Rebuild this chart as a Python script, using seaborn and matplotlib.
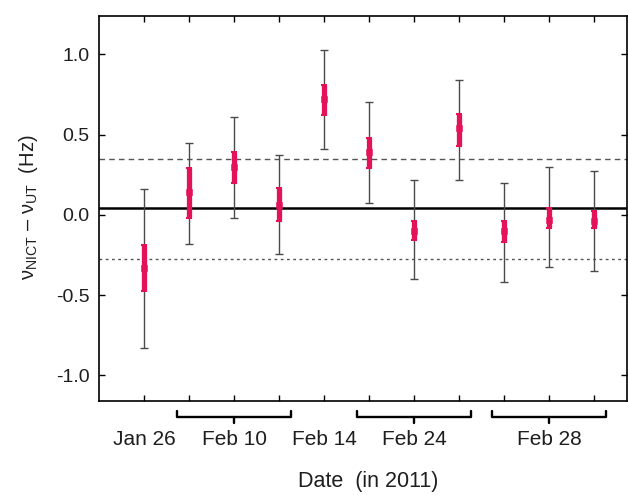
import numpy as np
import pandas as pd
import matplotlib
matplotlib.use("Agg")
import matplotlib.pyplot as plt
import matplotlib.transforms as mtransforms
import seaborn as sns

# ---- data ----
positions = [1, 2, 3, 4, 5, 6, 7, 8, 9, 10, 11]
center = [-0.33, 0.14, 0.30, 0.06, 0.72, 0.39, -0.10, 0.54, -0.10, -0.03, -0.04]
outer_hi = [0.16, 0.45, 0.61, 0.375, 1.025, 0.70, 0.22, 0.84, 0.20, 0.30, 0.27]
outer_lo = [-0.83, -0.18, -0.02, -0.245, 0.41, 0.075, -0.40, 0.22, -0.42, -0.325, -0.35]
inner_hi = [-0.19, 0.29, 0.39, 0.17, 0.81, 0.48, -0.04, 0.63, -0.04, 0.04, 0.025]
inner_lo = [-0.475, -0.02, 0.20, -0.04, 0.62, 0.29, -0.16, 0.43, -0.17, -0.08, -0.08]

mean_line = 0.04
upper_line = 0.35
lower_line = -0.275

# labels: (first index, last index, text)
date_groups = [(1, 1, "Jan 26"), (2, 4, "Feb 10"), (5, 5, "Feb 14"),
               (6, 8, "Feb 24"), (9, 11, "Feb 28")]
yticks = [-1.0, -0.5, 0.0, 0.5, 1.0]
ytick_labels = ["-1.0", "-0.5", "0.0", "0.5", "1.0"]

df = pd.DataFrame({"pos": positions, "center": center,
                   "ohi": outer_hi, "olo": outer_lo,
                   "ihi": inner_hi, "ilo": inner_lo})

sns.set_style("ticks")
plt.rcParams["font.family"] = ["Liberation Sans", "DejaVu Sans"]
plt.rcParams["mathtext.fontset"] = "custom"
plt.rcParams["mathtext.rm"] = "Liberation Sans"
plt.rcParams["mathtext.it"] = "Liberation Sans:italic"
plt.rcParams["axes.unicode_minus"] = False

fig = plt.figure(figsize=(6.28, 4.95), dpi=100)
ax = fig.add_axes([0.158, 0.19, 0.840, 0.778])

red = "#e3125a"
gray = "#4a4a4a"
txt = "#1e1e1e"

# outer error bars
ax.errorbar(df["pos"], df["center"],
            yerr=[df["center"] - df["olo"], df["ohi"] - df["center"]],
            fmt="none", ecolor=gray, elinewidth=1.0, capsize=3, capthick=1.0, zorder=2)
# inner (red) error bars
ax.errorbar(df["pos"], df["center"],
            yerr=[df["center"] - df["ilo"], df["ihi"] - df["center"]],
            fmt="none", ecolor=red, elinewidth=3.8, capsize=2.5, capthick=1.5, zorder=3)
sns.scatterplot(data=df, x="pos", y="center", ax=ax, color=red, marker="s",
                s=22, edgecolor=red, zorder=4, legend=False)

ax.axhline(mean_line, color="black", lw=1.8, zorder=1)
ax.axhline(upper_line, color="#555555", lw=1.0, ls=(0, (4, 3)), zorder=1)
ax.axhline(lower_line, color="#555555", lw=1.0, ls=(0, (2, 2.5)), zorder=1)

ax.set_xlabel("")
ax.set_ylabel("")
ax.set_xlim(0, 11.73)
ax.set_ylim(-1.16, 1.24)
ax.set_yticks(yticks)
ax.set_yticklabels(ytick_labels)
ax.set_xticks(positions)
ax.set_xticklabels([])
ax.tick_params(axis="both", direction="in", length=4, width=1, colors="black",
               top=True, right=True, labelsize=14, labelcolor=txt)
ax.tick_params(axis="y", pad=7)
for s in ax.spines.values():
    s.set_linewidth(1.2)
    s.set_color("black")

# date labels and brackets under the axis
trans = mtransforms.blended_transform_factory(ax.transData, ax.transAxes)
for first, last, text in date_groups:
    mid = (first + last) / 2
    if last > first:
        x0, x1 = first - 0.27, last + 0.27
        ax.plot([x0, x0, x1, x1], [-0.026, -0.041, -0.041, -0.026], color="black",
                lw=1.7, transform=trans, clip_on=False)
        ax.plot([mid, mid], [-0.041, -0.057], color="black", lw=1.7,
                transform=trans, clip_on=False)
    ax.text(mid, -0.10, text, transform=trans, ha="center", va="center",
            fontsize=15, color=txt)

ax.text(0.51, -0.21, "Date  (in 2011)", transform=ax.transAxes, ha="center",
        va="center", fontsize=15.5, color=txt)
fig.text(0.045, 0.582, r"$\mathrm{\nu_{NICT}}$ – $\mathrm{\nu_{UT}}$  (Hz)",
         rotation=90, ha="center", va="center", fontsize=14.5, color=txt)

fig.savefig("out.png", dpi=100)
